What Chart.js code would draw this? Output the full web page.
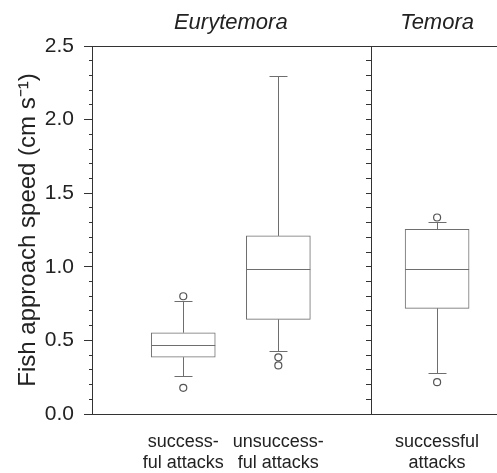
<!DOCTYPE html>
<html>
<head>
<meta charset="utf-8">
<script src="https://cdn.jsdelivr.net/npm/chart.js@4/dist/chart.umd.min.js"></script>
<style>
  html, body { margin: 0; padding: 0; background: #fff; }
  #wrap { width: 497px; height: 473px; }
</style>
</head>
<body>
<div id="wrap"><canvas id="c" width="497" height="473"></canvas></div>
<script>
// ---- data ----
const species = ['Eurytemora', 'Temora'];
const speciesGroups = [[0, 1], [2]];
const categories = [['success-', 'ful attacks'], ['unsuccess-', 'ful attacks'], ['successful', 'attacks']];
const groupX = [1, 2, 3.67];          // slot of each box on the category axis
const dividerX = 2.975;               // slot of the axis that separates the species
const whiskerLow = [0.257, 0.427, 0.280];
const q1 = [0.386, 0.643, 0.718];
const median = [0.466, 0.983, 0.988];
const q3 = [0.552, 1.210, 1.255];
const whiskerHigh = [0.767, 2.294, 1.305];
const outliers = [[0.800, 0.178], [0.385, 0.330], [1.335, 0.216]];
const yTicks = [0, 0.5, 1.0, 1.5, 2.0, 2.5];

const X_MIN = 0.04, X_MAX = 4.3;
const LINE = '#6e6e6e';
const AXIS = '#333';
const FONT = "'Liberation Sans', Arial, Helvetica, sans-serif";

const boxData = groupX.map((x, i) => ({ x: x, y: [q1[i], q3[i]] }));
const outlierData = [];
outliers.forEach((arr, i) => arr.forEach(v => outlierData.push({ x: groupX[i], y: v })));

const boxPlugin = {
  id: 'boxParts',
  beforeDatasetsDraw(chart) {
    const { ctx, scales: { x, y } } = chart;
    ctx.save();
    ctx.strokeStyle = LINE;
    ctx.lineWidth = 1;
    const capHalf = 9;
    groupX.forEach((gx, i) => {
      const px = Math.round(x.getPixelForValue(gx)) + 0.5;
      const yl = Math.round(y.getPixelForValue(whiskerLow[i])) + 0.5;
      const yh = Math.round(y.getPixelForValue(whiskerHigh[i])) + 0.5;
      const y1 = y.getPixelForValue(q1[i]);
      const y3 = y.getPixelForValue(q3[i]);
      ctx.beginPath();
      ctx.moveTo(px, y3); ctx.lineTo(px, yh);
      ctx.moveTo(px, y1); ctx.lineTo(px, yl);
      ctx.moveTo(px - capHalf, yh); ctx.lineTo(px + capHalf, yh);
      ctx.moveTo(px - capHalf, yl); ctx.lineTo(px + capHalf, yl);
      ctx.stroke();
    });
    ctx.restore();
  },
  afterDatasetsDraw(chart) {
    const { ctx, scales: { y } } = chart;
    const meta = chart.getDatasetMeta(0);
    ctx.save();
    ctx.strokeStyle = LINE;
    ctx.lineWidth = 1;
    meta.data.forEach((bar, i) => {
      const half = bar.width / 2;
      const ym = Math.round(y.getPixelForValue(median[i])) + 0.5;
      ctx.beginPath();
      ctx.moveTo(bar.x - half, ym); ctx.lineTo(bar.x + half, ym);
      ctx.stroke();
    });
    ctx.restore();
  }
};

function noSidePadding(s, h) {
  s.height = h;
  s.paddingLeft = 0;
  s.paddingRight = 0;
}

new Chart(document.getElementById('c'), {
  type: 'bar',
  data: {
    datasets: [
      {
        type: 'bar',
        data: boxData,
        backgroundColor: '#ffffff',
        borderColor: LINE,
        borderWidth: 1,
        borderSkipped: false,
        barThickness: 64,
        xAxisID: 'x',
        yAxisID: 'y'
      },
      {
        type: 'scatter',
        data: outlierData,
        pointRadius: 3.5,
        pointBorderWidth: 1.2,
        pointBorderColor: '#555',
        pointBackgroundColor: '#fff',
        clip: false,
        xAxisID: 'x',
        yAxisID: 'y'
      }
    ]
  },
  options: {
    responsive: false,
    animation: false,
    layout: { padding: 0, autoPadding: false },
    plugins: { legend: { display: false }, tooltip: { enabled: false }, title: { display: false } },
    scales: {
      x: {
        type: 'linear',
        position: 'bottom',
        offset: false,
        min: X_MIN, max: X_MAX,
        afterBuildTicks(s) { s.ticks = groupX.map(v => ({ value: v })); },
        afterFit(s) { noSidePadding(s, 59); },
        grid: { display: false, drawTicks: false, offset: false },
        border: { display: true, color: AXIS, width: 1 },
        ticks: {
          autoSkip: false, maxRotation: 0, padding: 17,
          color: '#222',
          font: { family: FONT, size: 18, lineHeight: 1.2 },
          callback: (v, i) => categories[i]
        }
      },
      x2: {
        type: 'linear',
        position: 'top',
        offset: false,
        min: X_MIN, max: X_MAX,
        afterBuildTicks(s) {
          s.ticks = speciesGroups.map(g => ({ value: g.reduce((a, k) => a + groupX[k], 0) / g.length }));
        },
        afterFit(s) { noSidePadding(s, 46); },
        grid: { display: false, drawTicks: false, offset: false },
        border: { display: true, color: AXIS, width: 1 },
        ticks: {
          autoSkip: false, maxRotation: 0, padding: 10,
          color: '#222',
          font: { family: FONT, size: 22, style: 'italic', lineHeight: 1.2 },
          callback: (v, i) => species[i]
        }
      },
      y: {
        type: 'linear',
        position: 'left',
        min: 0, max: 2.5,
        afterBuildTicks(s) { s.ticks = yTicks.map(v => ({ value: v })); },
        afterFit(s) { s.width = 92; },
        grid: { drawOnChartArea: false, drawTicks: true, tickLength: 8, tickColor: AXIS, tickWidth: 1 },
        border: { display: true, color: AXIS, width: 1 },
        ticks: {
          padding: 10,
          color: '#222',
          font: { family: FONT, size: 21 },
          callback: v => Number(v).toFixed(1)
        },
        title: {
          display: true,
          text: 'Fish approach speed (cm s\u207B\u00B9)',
          color: '#222',
          font: { family: FONT, size: 24, lineHeight: 1.2 },
          padding: { top: 14, bottom: 0 }
        }
      },
      yMinor: {
        type: 'linear',
        position: { x: X_MIN },
        min: 0, max: 2.5,
        afterFit(s) { s.width = 0; },
        grid: { drawOnChartArea: false, drawTicks: true, tickLength: 3, tickColor: AXIS, tickWidth: 1 },
        border: { display: false },
        ticks: { display: false, stepSize: 0.1 }
      },
      yMid: {
        type: 'linear',
        position: { x: dividerX },
        min: 0, max: 2.5,
        afterFit(s) { s.width = 0; },
        grid: { drawOnChartArea: false, drawTicks: true, tickLength: 5, tickColor: AXIS, tickWidth: 1 },
        border: { display: true, color: AXIS, width: 1 },
        ticks: { display: false, stepSize: 0.1 }
      }
    }
  },
  plugins: [boxPlugin]
});
</script>
</body>
</html>
